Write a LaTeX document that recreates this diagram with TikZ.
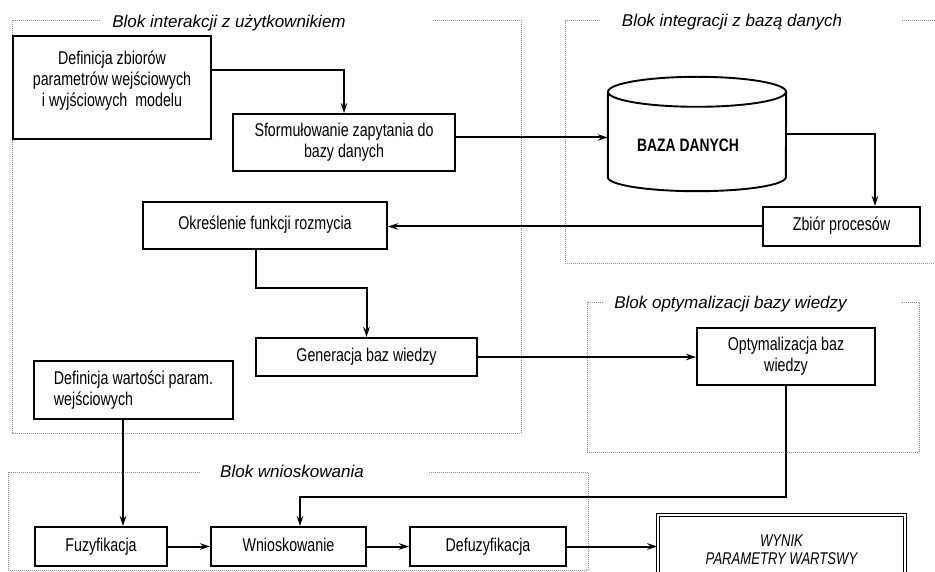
\documentclass[tikz,border=0pt]{standalone}
\usepackage{fontspec}
\setmainfont{Liberation Sans}
\newfontfamily\boxfont{Liberation Sans}[FakeStretch=0.77]
\usetikzlibrary{arrows.meta}

\begin{document}
\begin{tikzpicture}[x=1pt, y=-1pt,
    >={Stealth[length=10pt,width=6.5pt]},
    font=\boxfont\fontsize{18.5}{21}\selectfont,
    box/.style={draw, rectangle, line width=1.9pt, inner sep=2pt, align=center},
    oneline/.style={text height=13pt, text depth=4pt},
    flow/.style={->, line width=2pt},
    frame/.style={black!45, line width=0.8pt, dash pattern=on 1pt off 1pt},
    blocktitle/.style={anchor=base, font=\normalfont\fontsize{17}{20}\selectfont\itshape}]
    \useasboundingbox (0,0) rectangle (935,572);

    % Blok interakcji z uzytkownikiem
    \draw[frame] (100,20) -- (12,20) -- (12,433) -- (521,433) -- (521,20) -- (432,20);
    \node[blocktitle] (tinter) at (229,28) {Blok interakcji z użytkownikiem};

    % Blok integracji z baza danych
    \draw[frame] (600,20) -- (565,20) -- (565,263) -- (935,263);
    \draw[frame] (902,20) -- (935,20);
    \node[blocktitle] (tinteg) at (732,27) {Blok integracji z bazą danych};

    % Blok optymalizacji bazy wiedzy
    \draw[frame] (603,302) -- (587,302) -- (587,452) -- (919,452) -- (919,302) -- (902,302);
    \node[blocktitle] (toptym) at (730.5,308.5) {Blok optymalizacji bazy wiedzy};

    % Blok wnioskowania
    \draw[frame] (200,472) -- (8,472) -- (8,570) -- (588,570) -- (588,472) -- (428,472);
    \node[blocktitle] (twniosk) at (292,477) {Blok wnioskowania};

    % Definicja zbiorow
    \node[box, minimum width=198pt, minimum height=103pt,
        label={[anchor=north, yshift=-12pt, align=center]north:Definicja zbiorów\\parametrów wejściowych\\i wyjściowych\ \ modelu}] (defzb) at (112,87.5) {};

    % Sformulowanie zapytania
    \node[box, minimum width=222pt, minimum height=57pt] (sform) at (344,142.5) {Sformułowanie zapytania do\\bazy danych};

    % Baza danych
    \node[minimum width=178pt, minimum height=114pt, inner sep=0pt,
        label={[xshift=-9pt, yshift=-11pt, font=\boxfont\fontsize{18}{21}\selectfont\bfseries]center:BAZA DANYCH}] (db) at (697,134) {};
    \draw[line width=1.9pt] ([yshift=-15pt]db.north) ellipse [x radius=89, y radius=15];
    \draw[line width=1.9pt] ([yshift=-15pt]db.north west) -- ([yshift=14pt]db.south west)
        arc[start angle=180, end angle=0, x radius=89, y radius=14] -- ([yshift=-15pt]db.north east);

    % Zbior procesow
    \node[box, oneline, minimum width=157pt, minimum height=39pt] (zbior) at (841.5,226.5) {Zbiór procesów};

    % Okreslenie funkcji rozmycia
    \node[box, oneline, minimum width=244pt, minimum height=47pt] (okresl) at (265,225.5) {Określenie funkcji rozmycia};

    % Generacja baz wiedzy
    \node[box, oneline, minimum width=221pt, minimum height=38pt] (gener) at (366.5,357) {Generacja baz wiedzy};

    % Optymalizacja baz wiedzy
    \node[box, minimum width=178pt, minimum height=57pt] (optym) at (786,356.5) {Optymalizacja baz\\wiedzy};

    % Definicja wartosci param.
    \node[box, align=left, minimum width=199pt, minimum height=58pt] (defw) at (133.5,390) {Definicja wartości param.\\wejściowych};

    % Fuzyfikacja, Wnioskowanie, Defuzyfikacja
    \node[box, oneline, minimum width=132pt, minimum height=39pt] (fuzy) at (101,546.5) {Fuzyfikacja};
    \node[box, oneline, minimum width=155pt, minimum height=39pt] (wniosk) at (288.5,546.5) {Wnioskowanie};
    \node[box, oneline, minimum width=156pt, minimum height=39pt] (defuz) at (488,546.5) {Defuzyfikacja};

    % Wynik
    \node[draw, double, line width=1.4pt, double distance=2pt, minimum width=247pt, minimum height=70pt,
        align=center, font=\boxfont\fontsize{17}{18}\selectfont\itshape] (wynik) at (781.5,550) {WYNIK\\PARAMETRY WARTSWY};

    % Arrows
    \draw[flow] ([yshift=17.5pt]defzb.east) -| (sform.north);
    \draw[flow] ([yshift=5pt]sform.east) -- ([yshift=5pt]sform.east -| db.west);
    \draw[flow] (db.east) -| ([xshift=33.5pt]zbior.north);
    \draw[flow] (zbior.west) -- (zbior.west -| okresl.east);
    \draw[flow] ([xshift=-9pt]okresl.south) -- ++(0,38) -| (gener.north);
    \draw[flow] (gener.east) -- (gener.east -| optym.west);
    \draw[flow] (optym.south) -- ++(0,111) -| ([xshift=11.5pt]wniosk.north);
    \draw[flow] ([xshift=-10.5pt]defw.south) -- ([xshift=-10.5pt]defw.south |- fuzy.north);
    \draw[flow] (fuzy) -- (wniosk);
    \draw[flow] (wniosk) -- (defuz);
    \draw[flow] (defuz.east) -- (defuz.east -| wynik.west);
\end{tikzpicture}
\end{document}
